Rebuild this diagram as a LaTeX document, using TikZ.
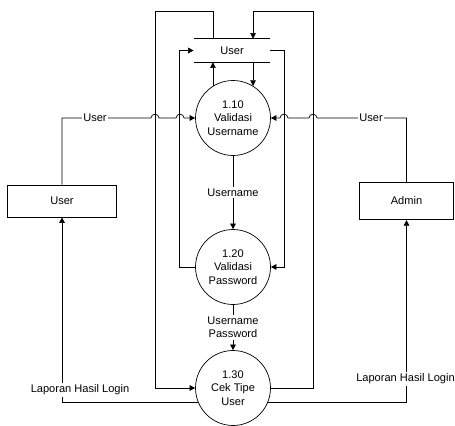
\documentclass[tikz,border=0pt]{standalone}
\usepackage{fontspec}
\setmainfont{Liberation Sans}
\usetikzlibrary{arrows.meta}

\tikzset{
	proc/.style={draw, circle, minimum size=1.5cm, inner sep=0pt, align=center},
	ent/.style={draw, rectangle, inner sep=0pt},
	flow/.style={-{Triangle[length=3.2pt,width=3.2pt]}},
	lbl/.style={fill=white, inner sep=1pt, align=center},
}

\begin{document}
\begin{tikzpicture}[x=0.02cm, y=-0.02cm, font=\fontsize{6.3}{7.6}\selectfont]
	\useasboundingbox (0,0) rectangle (455,425);
	
	%NODES
	\node[proc] (p110) at (233,118) {1.10\\Validasi\\Username};
	\node[proc] (p120) at (233,267) {1.20\\Validasi\\Password};
	\node[proc] (p130) at (233,388) {1.30\\Cek Tipe\\User};
	\node[ent, minimum width=2.18cm, minimum height=0.64cm] (user) at (62,201) {User};
	\node[ent, minimum width=1.89cm, minimum height=0.75cm] (admin) at (406.5,201) {Admin};
	\node[inner sep=0pt, minimum width=1.52cm, minimum height=0.46cm] (store) at (232,50.5) {User};
	\draw (store.north west) -- (store.north east);		%store top line
	\draw (store.south west) -- (store.south east);		%store bottom line
	
	%LOGIN INPUT (with hops)
	\draw[flow] (user.north) |- (151,118) .. controls (151,113) and (159,113) .. (159,118)
		-- (176,118) .. controls (176,113) and (184,113) .. (184,118) -- (p110.west);
	\draw[flow] (admin.north) |- (317,118) .. controls (317,113) and (309,113) .. (309,118)
		-- (288,118) .. controls (288,113) and (280,113) .. (280,118) -- (p110.east);
	\node[lbl] (lu) at (95,118)  {User};
	\node[lbl] (la) at (371,118) {User};
	
	%PROCESS CHAIN
	\draw[flow] (p110.south) -- node[lbl] (lun) {Username} (p120.north);
	\draw[flow] (p120.south) -- node[lbl] (lup) {Username\\Password} (p130.north);
	
	%STORE FLOWS
	\draw[flow] (p110.122) -- (p110.122 |- store.south);				%1.10 to store
	\draw[flow] (p110.58 |- store.south) -- (p110.58);				%store to 1.10
	\draw[flow] (p120.west) -- ++(-15.5,0) |- (store.west);			%1.20 to store
	\draw[flow] (store.east) -- ++(14,0) |- (p120.east);				%store to 1.20
	\draw[flow] (p110.122 |- store.north) |- (155,11) |- (p130.west);	%store to 1.30
	\draw[flow] (p130.east) -| (313,11) -| (store.north -| p110.58);	%1.30 to store
	
	%OUTPUT
	\draw[flow] (p130.202) -| (user.south);
	\draw[flow] (p130.-22) -| (admin.south);
	\node[lbl] (lr1) at (80,390)    {Laporan Hasil Login};
	\node[lbl] (lr2) at (405.5,379) {Laporan Hasil Login};
	
%	\draw[help lines,step=10] (0,0) grid (455,425);
\end{tikzpicture}
\end{document}
